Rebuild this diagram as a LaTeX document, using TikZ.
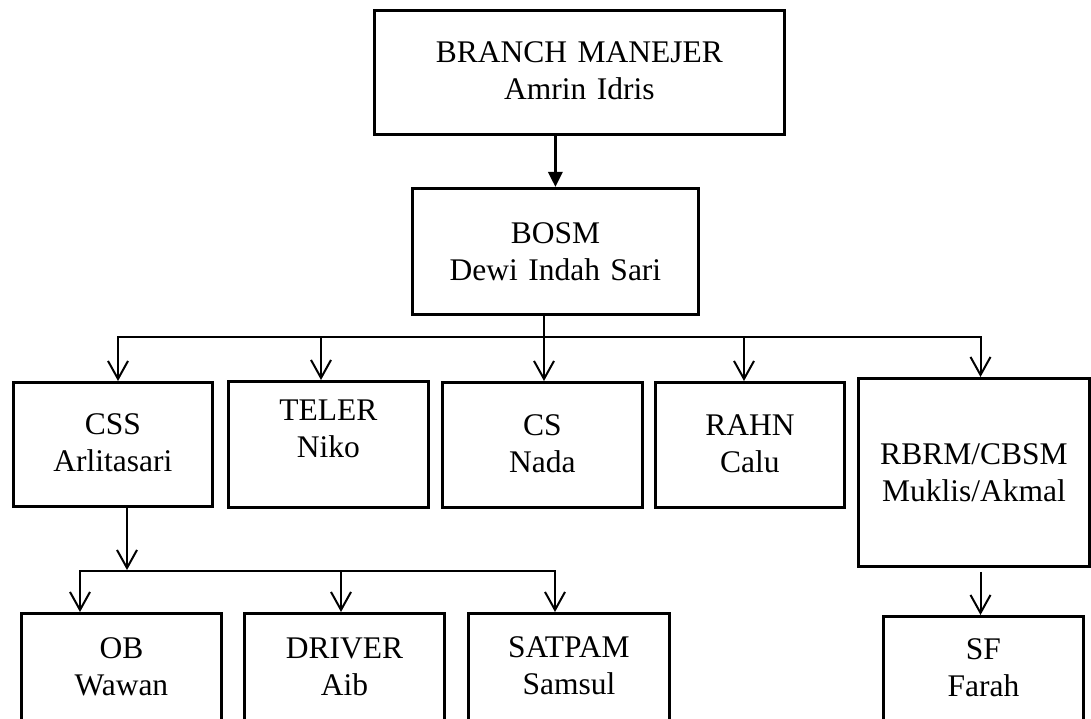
\documentclass[tikz,border=0pt]{standalone}
\usepackage{fontspec}
\setmainfont{Liberation Serif}
\usetikzlibrary{arrows.meta,calc}
\begin{document}
\begin{tikzpicture}[x=1pt,y=-1pt,
  box/.style={draw, line width=2.8pt, inner sep=0pt, anchor=north west},
  txt/.style={text width=#1, align=center, anchor=base, inner sep=0pt,
              font=\fontsize{31.5}{37}\selectfont},
  conn/.style={line width=2pt},
  arr/.style={line width=2pt, -{Straight Barb[length=18pt,width=20pt]}},
  bigarr/.style={line width=3pt, -{Triangle[length=15pt,width=14pt]}}]
\useasboundingbox (0,0) rectangle (1091,719);
\clip (0,0) rectangle (1091,719);
% boxes
\node[box, minimum width=410pt, minimum height=124pt] (top) at (373,9) {};
\node[box, minimum width=286pt, minimum height=126pt] (bosm) at (411,187) {};
\node[box, minimum width=199pt, minimum height=124pt] (css) at (12,381) {};
\node[box, minimum width=200pt, minimum height=126pt] (teler) at (227,380) {};
\node[box, minimum width=200pt, minimum height=125pt] (cs) at (441,381) {};
\node[box, minimum width=189pt, minimum height=125pt] (rahn) at (654,381) {};
\node[box, minimum width=231pt, minimum height=188pt] (rbrm) at (857,377) {};
\node[box, minimum width=200pt, minimum height=125pt] (ob) at (20,612) {};
\node[box, minimum width=200pt, minimum height=125pt] (driver) at (243,612) {};
\node[box, minimum width=201pt, minimum height=125pt] (satpam) at (467,612) {};
\node[box, minimum width=200pt, minimum height=125pt] (sf) at (882,615) {};
% texts
\node[txt=400pt] (topT) at (top.center |- 0,63) {BRANCH MANEJER\\Amrin Idris};
\node[txt=280pt] (bosmT) at (bosm.center |- 0,243.5) {BOSM\\Dewi Indah Sari};
\node[txt=190pt] (cssT) at (css.center |- 0,434.5) {CSS\\Arlitasari};
\node[txt=190pt] (telerT) at (teler.center |- 0,420.5) {TELER\\Niko};
\node[txt=190pt] (csT) at (cs.center |- 0,435.5) {CS\\Nada};
\node[txt=180pt] (rahnT) at (rahn.center |- 0,435.5) {RAHN\\Calu};
\node[txt=225pt] (rbrmT) at (rbrm.center |- 0,464.5) {RBRM/CBSM\\Muklis/Akmal};
\node[txt=190pt] (obT) at (ob.center |- 0,658.5) {OB\\Wawan};
\node[txt=190pt] (driverT) at (driver.center |- 0,658.5) {DRIVER\\Aib};
\node[txt=190pt] (satpamT) at (satpam.center |- 0,657.5) {SATPAM\\Samsul};
\node[txt=190pt] (sfT) at (sf.center |- 0,659.5) {SF\\Farah};
% connector positions
\coordinate (busA) at (0,337);
\coordinate (busB) at (0,571);
\coordinate (xCSS) at (118,0);
\coordinate (xTEL) at (321,0);
\coordinate (xCS) at (544,0);
\coordinate (xRAHN) at (744,0);
\coordinate (xRBRM) at (980.5,0);
\coordinate (xCSSo) at (127,0);
\coordinate (xOB) at (80,0);
\coordinate (xDRV) at (341,0);
\coordinate (xSAT) at (555,0);
% connectors
\draw[bigarr] (bosm.north |- top.south) -- (bosm.north);
\draw[arr] (xCS |- bosm.south) -- (xCS |- cs.north);
\draw[arr] (xCS |- busA) -| (xCSS |- css.north);
\draw[arr] (xCS |- busA) -| (xRBRM |- rbrm.north);
\draw[arr] (xTEL |- busA) -- (xTEL |- teler.north);
\draw[arr] (xRAHN |- busA) -- (xRAHN |- rahn.north);
\draw[arr] (xCSSo |- css.south) -- ($(xCSSo |- busB)+(0,-1)$);
\draw[arr] (xDRV |- busB) -| (xOB |- ob.north);
\draw[arr] (xDRV |- busB) -| (xSAT |- satpam.north);
\draw[arr] (xDRV |- busB) -- (xDRV |- driver.north);
\draw[arr] ($(xRBRM |- rbrm.south)+(0,4)$) -- (xRBRM |- sf.north);
\end{tikzpicture}
\end{document}
